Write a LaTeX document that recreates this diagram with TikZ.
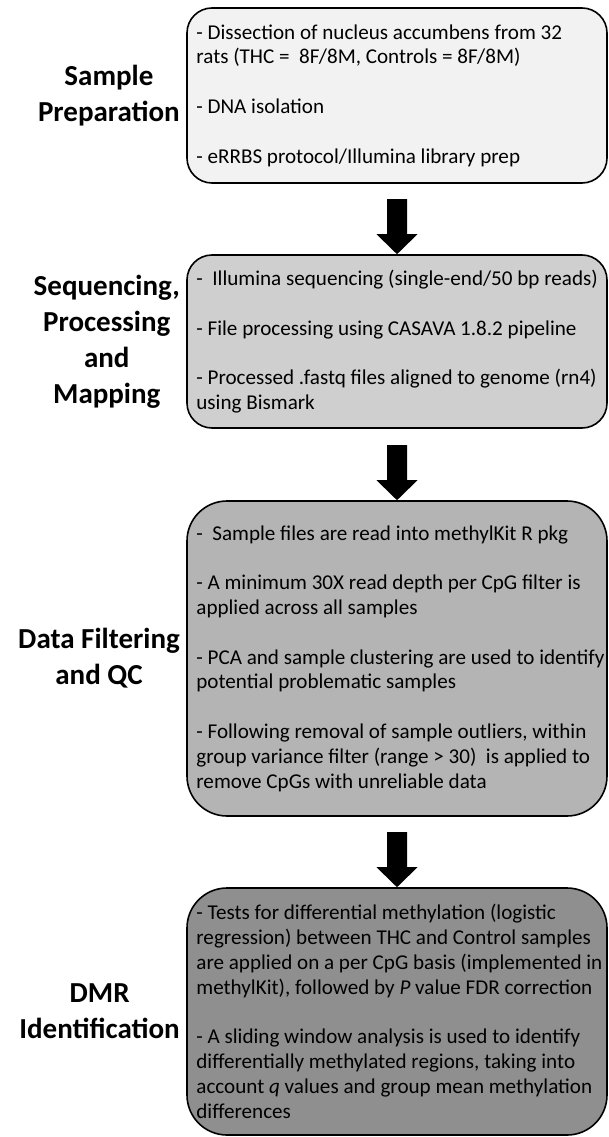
\documentclass[tikz,border=0pt]{standalone}
\usepackage{fontspec}
\setmainfont{Carlito}
\definecolor{cA}{HTML}{F2F2F2}
\definecolor{cB}{HTML}{CFCFCF}
\definecolor{cC}{HTML}{B4B4B4}
\definecolor{cD}{HTML}{8F8F8F}
\begin{document}
\begin{tikzpicture}[x=1pt,y=-1pt,
 box/.style={draw=black, line width=1.6pt, minimum width=420pt, inner sep=0pt},
 txt/.style={anchor=west, align=left, inner sep=0pt, font=\fontsize{21.1}{24.8}\selectfont},
 lbl/.style={anchor=east, align=center, inner sep=0pt, font=\fontsize{29}{36}\selectfont\bfseries},
 arr/.style={fill=black}]
\useasboundingbox (0,0) rectangle (609,1137);
% boxes
\node[box, fill=cA, rounded corners=25pt, minimum height=175pt] (b1) at (397,95.5) {};
\node[box, fill=cB, rounded corners=25pt, minimum height=173pt] (b2) at (397,341.5) {};
\node[box, fill=cC, rounded corners=40pt, minimum height=315pt] (b3) at (397,658.5) {};
\node[box, fill=cD, rounded corners=40pt, minimum height=247pt] (b4) at (397,1011.5) {};
% box texts
\node[txt] (t1) at ([xshift=10pt]b1.west) {- Dissection of nucleus accumbens from 32\\
rats (THC =\ \ 8F/8M, Controls = 8F/8M)\\[24.8pt]
- DNA isolation\\[24.8pt]
- eRRBS protocol/Illumina library prep};
\node[txt] (t2) at ([xshift=10pt]b2.west) {-\ \ Illumina sequencing (single-end/50 bp reads)\\[24.8pt]
- File processing using CASAVA 1.8.2 pipeline\\[24.8pt]
- Processed .fastq files aligned to genome (rn4)\\
using Bismark};
\node[txt] (t3) at ([xshift=10pt]b3.west) {-\ \ Sample files are read into methylKit R pkg\\[24.8pt]
- A minimum 30X read depth per CpG filter is\\
applied across all samples\\[24.8pt]
- PCA and sample clustering are used to identify\\
potential problematic samples\\[24.8pt]
- Following removal of sample outliers, within\\
group variance filter (range > 30)\ \ is applied to\\
remove CpGs with unreliable data};
\node[txt] (t4) at ([xshift=10pt]b4.west) {- Tests for differential methylation (logistic\\
regression) between THC and Control samples\\
are applied on a per CpG basis (implemented in\\
methylKit), followed by \textit{P} value FDR correction\\[24.8pt]
- A sliding window analysis is used to identify\\
differentially methylated regions, taking into\\
account \textit{q} values and group mean methylation\\
differences};
% labels
\node[lbl] (l1) at (180,95.5) {Sample\\Preparation};
\node[lbl] (l2) at (180,341.5) {Sequencing,\\Processing\\and\\Mapping};
\node[lbl] (l3) at (180,658.5) {Data Filtering\\and QC};
\node[lbl] (l4) at (180,1011.5) {DMR\\Identification};
% arrows
\foreach \n in {b2,b3,b4}{
  \fill[arr, shift={(\n.north)}] (-10,-55) -- (10,-55) -- (10,-20) -- (20.5,-20) -- (0,0) -- (-20.5,-20) -- (-10,-20) -- cycle;
}
\end{tikzpicture}
\end{document}
